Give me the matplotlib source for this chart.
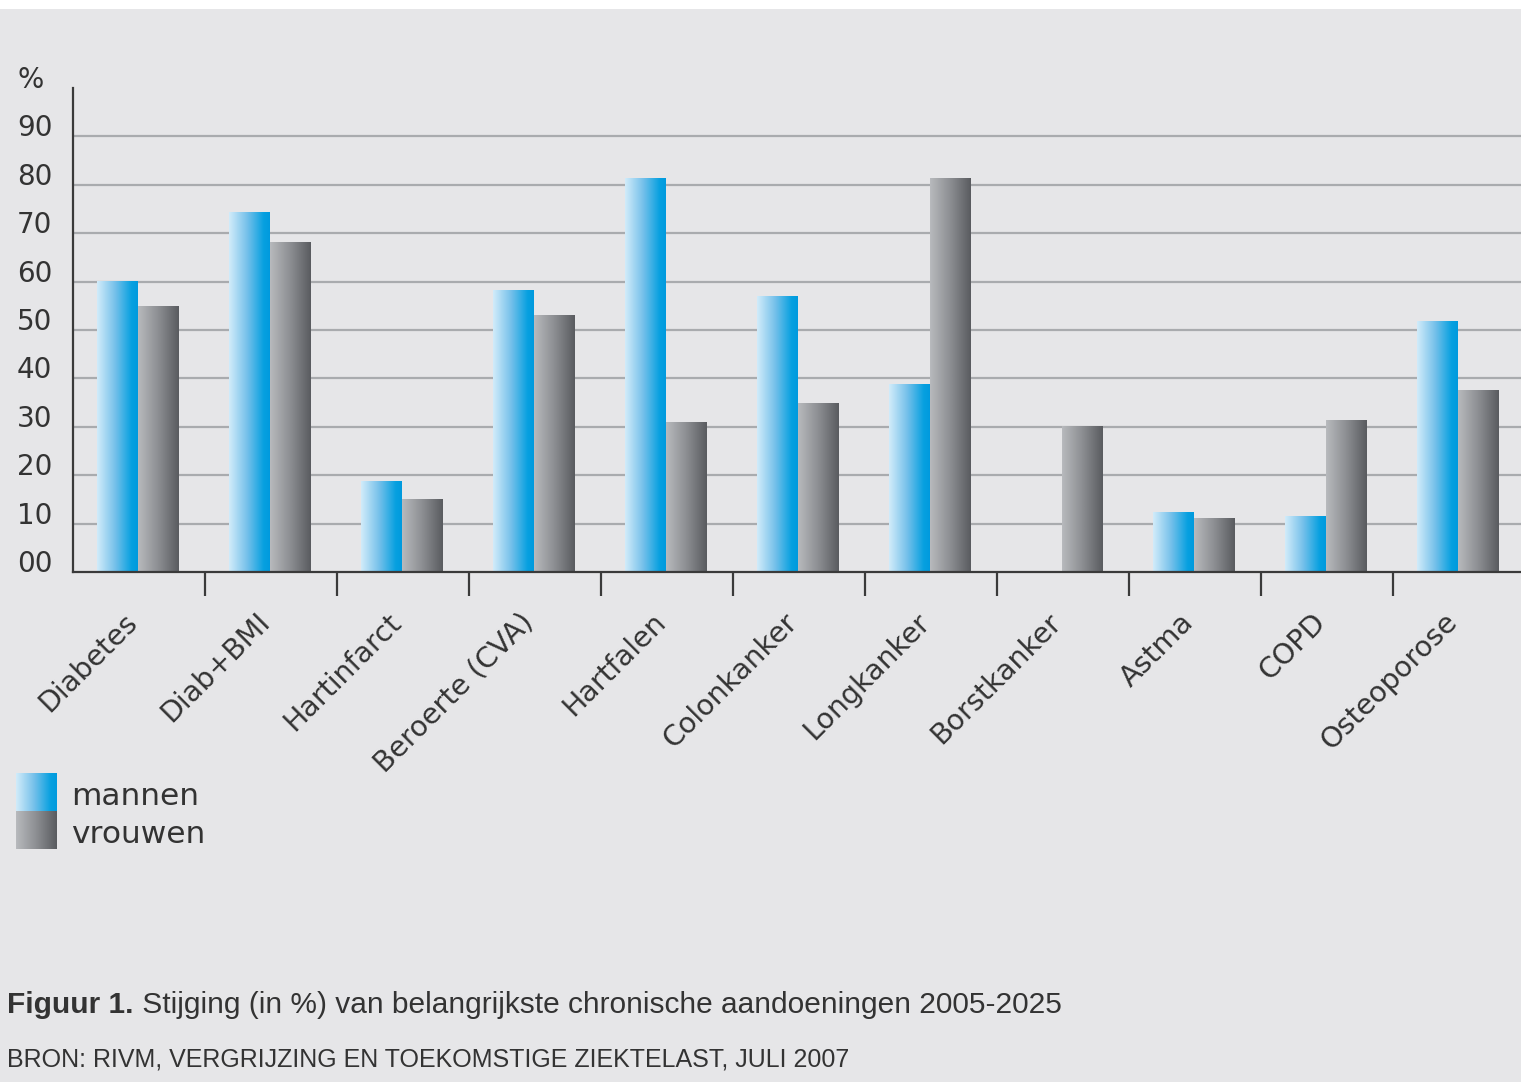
import numpy as np
import matplotlib
matplotlib.use("Agg")
import matplotlib.pyplot as plt
from matplotlib.colors import LinearSegmentedColormap

# ---- data ----
categories = ["Diabetes", "Diab+BMI", "Hartinfarct", "Beroerte (CVA)", "Hartfalen",
              "Colonkanker", "Longkanker", "Borstkanker", "Astma", "COPD", "Osteoporose"]
mannen = [60, 74.3, 18.8, 58.2, 81.2, 56.9, 38.7, 0, 12.2, 11.4, 51.8]
vrouwen = [54.8, 68.1, 14.9, 53.0, 30.8, 34.8, 81.2, 30.0, 11.0, 31.3, 37.5]
ytick_vals = [0, 10, 20, 30, 40, 50, 60, 70, 80, 90, 100]
ytick_labels = ["00", "10", "20", "30", "40", "50", "60", "70", "80", "90", "%"]
grid_vals = [10, 20, 30, 40, 50, 60, 70, 80, 90]
series_names = ["mannen", "vrouwen"]
caption_bold = "Figuur 1."
caption_rest = " Stijging (in %) van belangrijkste chronische aandoeningen 2005-2025"
source = "BRON: RIVM, VERGRIJZING EN TOEKOMSTIGE ZIEKTELAST, JULI 2007"

BG = "#e6e6e8"
TXT = "#333333"
blue_cmap = LinearSegmentedColormap.from_list(
    "b", [(0, "#d2ecfa"), (0.45, "#74c0ea"), (0.85, "#06a0e0"), (1, "#009ade")])
gray_cmap = LinearSegmentedColormap.from_list(
    "g", [(0, "#b8babd"), (0.5, "#8c8e92"), (1, "#595b5f")])
grad = np.linspace(0, 1, 256).reshape(1, -1)

W, H = 1521, 1082
fig = plt.figure(figsize=(W / 100, H / 100), dpi=100)
fig.patch.set_facecolor(BG)
plt.rcParams["font.family"] = ["DejaVu Sans"]

# overlay axes in pixel coords for white band, legend, caption
lax = fig.add_axes([0, 0, 1, 1], zorder=0)
lax.set_xlim(0, W)
lax.set_ylim(H, 0)
lax.axis("off")
lax.add_patch(plt.Rectangle((0, 0), W, 9, color="white", lw=0))

ax = fig.add_axes([73 / W, 1 - 572 / H, (W - 73) / W, (572 - 88) / H], zorder=1)
ax.set_facecolor("none")

x = np.arange(len(categories))
bw = 0.31
for vals, cmap, off in [(mannen, blue_cmap, -bw / 2 - 0.005), (vrouwen, gray_cmap, bw / 2 - 0.005)]:
    bars = ax.bar(x + off, vals, width=bw, facecolor="none", edgecolor="none", zorder=3)
    for r in bars:
        h = r.get_height()
        if h <= 0:
            continue
        x0 = r.get_x()
        ax.imshow(grad, cmap=cmap, aspect="auto", interpolation="bilinear",
                  extent=[x0, x0 + r.get_width(), 0, h], zorder=3)

ax.hlines(grid_vals, -0.6, 11, colors="#a9abae", lw=1.6, zorder=1)
ax.set_xlim(-0.5, -0.5 + (W - 73) / 132)
ax.set_ylim(0, 100)

for s in ["top", "right"]:
    ax.spines[s].set_visible(False)
for s in ["left", "bottom"]:
    ax.spines[s].set_color("#3a3a3a")
    ax.spines[s].set_linewidth(1.6)
    ax.spines[s].set_zorder(5)

ax.set_yticks(ytick_vals)
ax.set_yticklabels(ytick_labels, fontsize=20, color=TXT)
ax.tick_params(axis="y", length=0, pad=40.3)
for lab in ax.get_yticklabels():
    lab.set_horizontalalignment("left")
    lab.set_verticalalignment("baseline")

ax.set_xticks(x)
ax.set_xticklabels(categories, rotation=45, ha="right", va="baseline",
                   rotation_mode="anchor", fontsize=20.5, color=TXT)
ax.tick_params(axis="x", which="major", length=0, pad=37)
ax.set_xticks(x[:-1] + 0.5, minor=True)
ax.tick_params(axis="x", which="minor", length=17, width=1.6, color="#3a3a3a",
               direction="out")

# legend
for i, (cmap, name) in enumerate([(blue_cmap, series_names[0]), (gray_cmap, series_names[1])]):
    y0 = 773 + i * 38
    lax.imshow(grad, cmap=cmap, aspect="auto", interpolation="bilinear",
               extent=[16, 57, y0 + 38, y0], zorder=2)
    lax.text(71, y0 + 32, name, fontsize=22.5, color=TXT, va="baseline", ha="left")
lax.set_xlim(0, W)
lax.set_ylim(H, 0)

# caption
cap_font = ["Liberation Sans"]
t1 = lax.text(7, 1013, caption_bold, fontsize=21.5, fontweight="bold", color=TXT,
              va="baseline", ha="left", family=cap_font)
fig.canvas.draw()
bb = t1.get_window_extent()
lax.text(bb.x1, 1013, caption_rest, fontsize=21.5, color=TXT, va="baseline", ha="left",
         family=cap_font)
lax.text(7, 1067, source, fontsize=18, color=TXT, va="baseline", ha="left",
         family=cap_font)

fig.savefig("out.png", dpi=100, facecolor=BG)
